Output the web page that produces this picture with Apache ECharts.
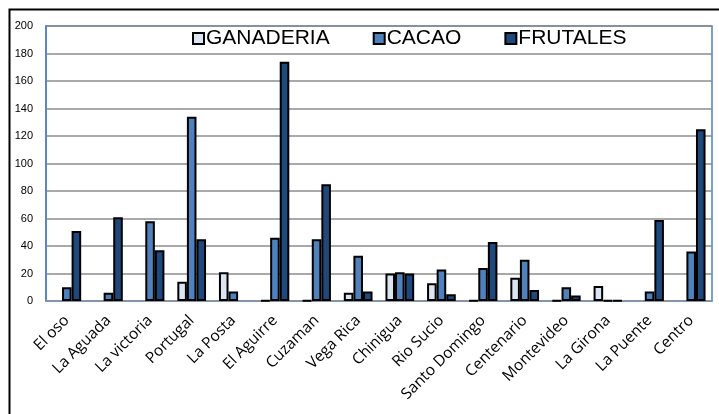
<!DOCTYPE html>
<html><head><meta charset="utf-8">
<script src="https://cdn.jsdelivr.net/npm/echarts@6/dist/echarts.min.js"></script>
<style>html,body{margin:0;padding:0;background:#fff}#c{width:719px;height:414px}</style>
</head><body><div id="c"></div>
<script>
const categories = ['El oso','La Aguada','La victoria','Portugal','La Posta','El Aguirre','Cuzaman','Vega Rica','Chinigua','Rio Sucio','Santo Domingo','Centenario','Montevideo','La Girona','La Puente','Centro'];
const ganaderia = [0,0,0,14,21,0.5,0.5,6,20,13,0.5,17,0.5,11,0,0];
const cacao     = [10,6,58,134,7,46,45,33,21,23,24,30,10,0.5,7,36];
const frutales  = [51,61,37,45,0,174,85,7,20,5,43,8,4,0.5,59,125];
const yTicks = {min:0, max:200, interval:20};

const chart = echarts.init(document.getElementById('c'));
const mk = (name, data, color) => ({
  name, type:'bar', data: data.map(v => v === 0 ? null : v), barGap:'0%', barCategoryGap:'31%',
  itemStyle:{color, borderColor:'#000', borderWidth:2},
  emphasis:{disabled:true}
});
chart.setOption({
  animation:false,
  graphic:[{type:'rect', shape:{x:9.5,y:9.5,width:800,height:500}, style:{fill:'none', stroke:'#000', lineWidth:2}, z:-1}],
  legend:{
    left:192, top:28, padding:0, itemWidth:11, itemHeight:11, itemGap:43, icon:'rect',
    textStyle:{fontFamily:'Liberation Sans', fontSize:21, color:'#000', padding:[0,0,0,-3]},
    data:['GANADERIA','CACAO','FRUTALES']
  },
  grid:{left:46, right:7, top:26, bottom:113, show:true, borderColor:'#4f81bd', borderWidth:1.5, backgroundColor:'transparent'},
  xAxis:{type:'category', data:categories,
    axisLine:{lineStyle:{color:'#8497b0', width:1.5}}, axisTick:{show:false},
    axisLabel:{rotate:45, interval:0, margin:17, fontFamily:'Open Sans', fontSize:15.5, color:'#000'}},
  yAxis:{type:'value', min:yTicks.min, max:yTicks.max, interval:yTicks.interval,
    axisLine:{show:true, lineStyle:{color:'#4f81bd', width:1.5}}, axisTick:{show:false},
    splitLine:{lineStyle:{color:'#8c8c8c', width:1.5}},
    axisLabel:{fontFamily:'Liberation Sans', fontSize:11, color:'#000', margin:13}},
  series:[
    mk('GANADERIA', ganaderia, '#dce6f2'),
    mk('CACAO', cacao, '#4f81bd'),
    mk('FRUTALES', frutales, '#1f497d')
  ]
});
</script></body></html>
